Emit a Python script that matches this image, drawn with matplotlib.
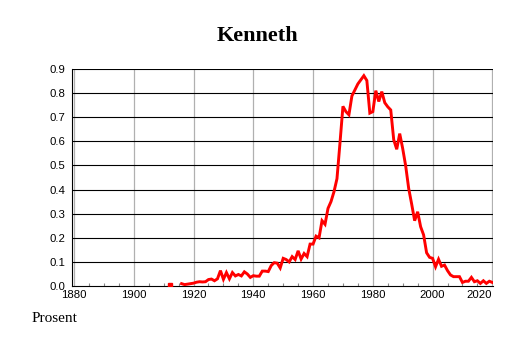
import matplotlib
matplotlib.use("Agg")
import matplotlib.pyplot as plt
import numpy as np

# Kenneth, prosent per year
years = list(range(1912, 2021))
early = [0.004, np.nan, np.nan, np.nan]  # 1912-1915
values = early + [
    0.010, 0.006, 0.008, 0.010, 0.012, 0.016, 0.018, 0.017, 0.018, 0.027,  # 1916-1925
    0.029, 0.022, 0.030, 0.064, 0.028, 0.056, 0.030, 0.056, 0.042, 0.048,  # 1926-1935
    0.042, 0.059, 0.050, 0.036, 0.043, 0.041, 0.041, 0.062, 0.062, 0.060,  # 1936-1945
    0.085, 0.097, 0.095, 0.075, 0.115, 0.110, 0.100, 0.122, 0.110, 0.146,  # 1946-1955
    0.112, 0.135, 0.122, 0.174, 0.174, 0.207, 0.200, 0.271, 0.256, 0.322,  # 1956-1965
    0.350, 0.391, 0.445, 0.592, 0.745, 0.723, 0.710, 0.788, 0.813, 0.838,  # 1966-1975
    0.855, 0.872, 0.852, 0.717, 0.723, 0.810, 0.765, 0.806, 0.760, 0.743,  # 1976-1985
    0.730, 0.606, 0.567, 0.632, 0.570, 0.498, 0.405, 0.340, 0.271, 0.308,  # 1986-1995
    0.246, 0.212, 0.138, 0.119, 0.115, 0.080, 0.111, 0.082, 0.087, 0.064,  # 1996-2005
    0.046, 0.039, 0.039, 0.039, 0.015, 0.020, 0.020, 0.036, 0.018, 0.022,  # 2006-2015
    0.011, 0.022, 0.011, 0.020, 0.015,                                      # 2016-2020
]
x_ticks = list(range(1880, 2021, 20))
y_ticks = [i / 10 for i in range(10)]

years = np.array(years)
values = np.array(values)

fig = plt.figure(figsize=(5.14, 3.43), dpi=100)
ax = fig.add_axes([0.140, 0.166, 0.819, 0.633])

ax.set_xlim(1879.3, 2020.2)
ax.set_ylim(0, 0.9)

# grid
for xv in x_ticks:
    ax.axvline(xv, color="#b0b0b0", lw=0.9, zorder=1)
for yv in y_ticks[1:]:
    ax.axhline(yv, color="black", lw=0.8, zorder=1)

ax.plot(years, values, color="#ff0000", lw=2.1, zorder=3, solid_joinstyle="miter")
# isolated years (no neighbours) as dots
ok = ~np.isnan(values)
prev = np.r_[False, ok[:-1]]
nxt = np.r_[ok[1:], False]
iso = ok & ~prev & ~nxt
ax.plot(years[iso], values[iso], "s", color="#ff0000", ms=2.5, zorder=3)

for s in ["top", "right"]:
    ax.spines[s].set_visible(False)
ax.spines["left"].set_linewidth(0.8)
ax.spines["bottom"].set_linewidth(0.8)

ax.set_xticks(x_ticks)
ax.set_xticks(range(1885, 2020, 5), minor=True)
ax.set_yticks(y_ticks)
ax.set_yticklabels([f"{v:.1f}" for v in y_ticks])
ax.tick_params(axis="both", which="major", length=0, labelsize=8.2, pad=5)
ax.tick_params(axis="x", which="major", pad=2.5)
ax.tick_params(axis="x", which="minor", direction="in", length=2.5, color="#888888", width=0.8)
for lab in ax.get_xticklabels() + ax.get_yticklabels():
    lab.set_family("Liberation Sans")
ax.get_xticklabels()[-1].set_horizontalalignment("right")

fig.text(0.5, 0.895, "Kenneth", ha="center", va="center", fontsize=16,
         fontweight="bold", family="Liberation Serif")
fig.text(0.062, 0.072, "Prosent", ha="left", va="center", fontsize=11,
         family="Liberation Serif")

fig.savefig("out.png", dpi=100)
